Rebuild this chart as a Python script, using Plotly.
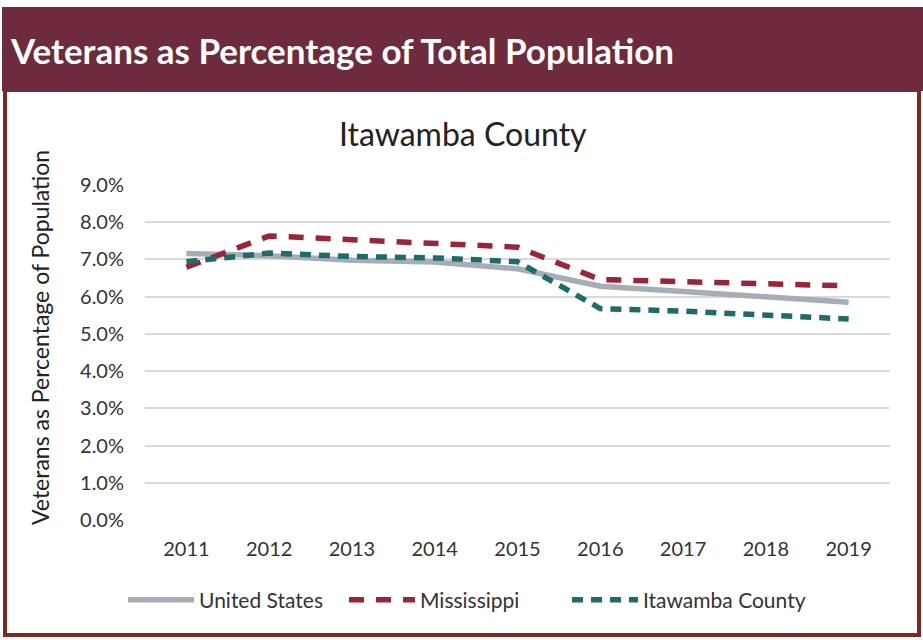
import plotly.graph_objects as go

years = [2011, 2012, 2013, 2014, 2015, 2016, 2017, 2018, 2019]
us = [7.16, 7.10, 6.98, 6.93, 6.75, 6.28, 6.14, 6.00, 5.85]
mississippi = [6.79, 7.63, 7.53, 7.43, 7.33, 6.46, 6.41, 6.36, 6.29]
itawamba = [6.94, 7.17, 7.08, 7.04, 6.94, 5.68, 5.61, 5.51, 5.40]
y_ticks = [0, 1, 2, 3, 4, 5, 6, 7, 8, 9]
y_tick_labels = [f"{v:.1f}%" for v in y_ticks]

W, H = 923, 640
L, R, T, B = 145, 890, 185, 520

def px(x):
    return (x - L) / (R - L)

def py(y):
    return (B - y) / (B - T)

FONT = "Lato"
fig = go.Figure()
fig.add_trace(go.Scatter(x=years, y=us, mode="lines", name="United States",
                         line=dict(color="#a6adb6", width=5.5)))
fig.add_trace(go.Scatter(x=years, y=mississippi, mode="lines", name="Mississippi",
                         line=dict(color="#9a2438", width=5.5, dash="15px,12px")))
fig.add_trace(go.Scatter(x=years, y=itawamba, mode="lines", name="Itawamba County",
                         legend="legend2",
                         line=dict(color="#1f6a6a", width=5.5, dash="11px,8px")))

shapes = [
    # outer frame with maroon border
    dict(type="rect", xref="paper", yref="paper", layer="below",
         x0=px(5), x1=px(919), y0=py(635), y1=py(90),
         line=dict(color="#7a2b24", width=4), fillcolor="white"),
    # header band
    dict(type="rect", xref="paper", yref="paper", layer="below",
         x0=px(2), x1=px(923), y0=py(91), y1=py(7),
         line=dict(width=0), fillcolor="#6e2b3d"),
]

annotations = [
    dict(text="<b>Veterans as Percentage of Total Population</b>", xref="paper", yref="paper",
         x=px(8), y=py(50), xanchor="left", yanchor="middle", showarrow=False,
         font=dict(family=FONT, size=35, color="white")),
    dict(text="Itawamba County", xref="paper", yref="paper",
         x=px(463), y=py(133), xanchor="center", yanchor="middle", showarrow=False,
         font=dict(family=FONT, size=32, color="#222222")),
    dict(text="Veterans as Percentage of Population", xref="paper", yref="paper",
         x=px(40), y=py(338), xanchor="center", yanchor="middle", showarrow=False,
         textangle=-90, font=dict(family=FONT, size=23, color="#222222")),
]

legend_common = dict(orientation="h", yanchor="middle", xanchor="left",
                     font=dict(family=FONT, size=21, color="#333333"),
                     itemwidth=66, tracegroupgap=0, bgcolor="rgba(0,0,0,0)")

fig.update_layout(
    width=W, height=H,
    margin=dict(l=L, r=W - R, t=T, b=H - B, pad=0),
    paper_bgcolor="white", plot_bgcolor="white",
    shapes=shapes, annotations=annotations,
    showlegend=True,
    legend=dict(x=px(123), y=py(600), entrywidth=140, entrywidthmode="pixels", **legend_common),
    legend2=dict(x=px(567), y=py(600), **legend_common),
    xaxis=dict(range=[2010.5, 2019.5], tickvals=years, ticktext=[str(y) for y in years],
               showgrid=False, zeroline=False, showline=False, ticks="",
               tickfont=dict(family=FONT, size=20, color="#333333"), ticklabelstandoff=15),
    yaxis=dict(range=[0, 9], tickvals=y_ticks, ticktext=y_tick_labels,
               showgrid=True, gridcolor="#d9d9d9", gridwidth=2, zeroline=False,
               showline=False, ticks="", ticklabelstandoff=20,
               tickfont=dict(family=FONT, size=20, color="#333333")),
)

fig.write_html("out.html", config={"displayModeBar": False},
               post_script="document.body.style.margin='0';document.body.style.padding='0';document.body.style.overflow='hidden';")
